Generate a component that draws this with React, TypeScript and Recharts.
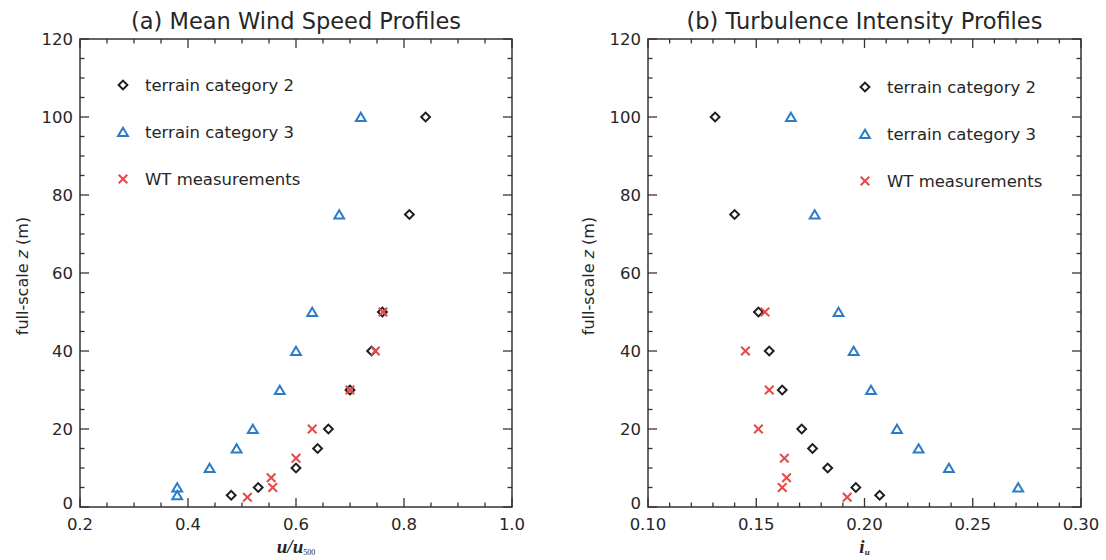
import React from "react";
import { ScatterChart, Scatter, XAxis, YAxis, ReferenceArea, Legend } from "recharts";

// ---------- data ----------
const heightsTC2 = [3, 5, 10, 15, 20, 30, 40, 50, 75, 100];
const heightsTC3a = [3, 5, 10, 15, 20, 30, 40, 50, 75, 100];
const heightsTC3b = [5, 10, 15, 20, 30, 40, 50, 75, 100];
const heightsWT = [2.5, 5, 7.5, 12.5, 20, 30, 40, 50];

const uTC2 = [0.48, 0.53, 0.6, 0.64, 0.66, 0.7, 0.74, 0.76, 0.81, 0.84];
const uTC3 = [0.38, 0.38, 0.44, 0.49, 0.52, 0.57, 0.6, 0.63, 0.68, 0.72];
const uWT = [0.51, 0.557, 0.554, 0.6, 0.63, 0.7, 0.747, 0.761];

const iTC2 = [0.207, 0.196, 0.183, 0.176, 0.171, 0.162, 0.156, 0.151, 0.14, 0.131];
const iTC3 = [0.271, 0.239, 0.225, 0.215, 0.203, 0.195, 0.188, 0.177, 0.166];
const iWT = [0.192, 0.162, 0.164, 0.163, 0.151, 0.156, 0.145, 0.154];

const seriesNames = ["terrain category 2", "terrain category 3", "WT measurements"];

const xMajorA = [0.2, 0.4, 0.6, 0.8, 1.0];
const xTicksA = [0.2, 0.25, 0.3, 0.35, 0.4, 0.45, 0.5, 0.55, 0.6, 0.65, 0.7, 0.75, 0.8, 0.85, 0.9, 0.95, 1.0];
const xMajorB = [0.1, 0.15, 0.2, 0.25, 0.3];
const xTicksB = [0.1, 0.11, 0.12, 0.13, 0.14, 0.15, 0.16, 0.17, 0.18, 0.19, 0.2, 0.21, 0.22, 0.23, 0.24, 0.25, 0.26, 0.27, 0.28, 0.29, 0.3];
const yMajor = [0, 20, 40, 60, 80, 100, 120];
const yTicks = [0, 5, 10, 15, 20, 25, 30, 35, 40, 45, 50, 55, 60, 65, 70, 75, 80, 85, 90, 95, 100, 105, 110, 115, 120];

const zip = (xs: number[], ys: number[]) => xs.map((x, i) => ({ x, y: ys[i] }));

// ---------- styles ----------
const AXIS = "#333333";
const TXT = "#262626";
const BLACK = "#1e1e1e";
const BLUE = "#2a7cc8";
const RED = "#e24a4c";
const SANS = "'DejaVu Sans', sans-serif";
const SERIF = "'Liberation Serif', 'DejaVu Serif', serif";

const W = 553;
const H = 560;
const PLOT_H = 468;

const Diamond = ({ cx, cy }: any) => (
  <path d={`M${cx},${cy - 4.4} L${cx + 4.4},${cy} L${cx},${cy + 4.4} L${cx - 4.4},${cy} Z`} fill="none" stroke={BLACK} strokeWidth={2} />
);
const Triangle = ({ cx, cy }: any) => (
  <path d={`M${cx},${cy - 4.3} L${cx + 4.9},${cy + 4} L${cx - 4.9},${cy + 4} Z`} fill="none" stroke={BLUE} strokeWidth={2} strokeLinejoin="miter" />
);
const Cross = ({ cx, cy }: any) => (
  <g stroke={RED} strokeWidth={2}>
    <line x1={cx - 4.3} y1={cy - 4.3} x2={cx + 4.3} y2={cy + 4.3} />
    <line x1={cx - 4.3} y1={cy + 4.3} x2={cx + 4.3} y2={cy - 4.3} />
  </g>
);
const markerByName: Record<string, any> = {
  [seriesNames[0]]: Diamond,
  [seriesNames[1]]: Triangle,
  [seriesNames[2]]: Cross,
};

const isIn = (v: number, arr: number[]) => arr.some((a) => Math.abs(a - v) < 1e-9);

const makeXTick = (majors: number[], dec: number) => (props: any) => {
  const { x, y, payload } = props;
  const v = payload.value;
  const major = isIn(v, majors);
  const len = major ? 9 : 4.5;
  return (
    <g>
      <line x1={x} y1={y} x2={x} y2={y - len} stroke={AXIS} strokeWidth={1.3} />
      <line x1={x} y1={y - PLOT_H} x2={x} y2={y - PLOT_H + len} stroke={AXIS} strokeWidth={1.3} />
      {major && (
        <text x={x} y={y + 23} textAnchor="middle" fill={TXT} fontFamily={SANS} fontSize={16.5}>
          {v.toFixed(dec)}
        </text>
      )}
    </g>
  );
};

const makeYTick = (plotW: number) => (props: any) => {
  const { x, y, payload } = props;
  const v = payload.value;
  const major = isIn(v, yMajor);
  const len = major ? 9 : 4.5;
  return (
    <g>
      <line x1={x} y1={y} x2={x + len} y2={y} stroke={AXIS} strokeWidth={1.3} />
      <line x1={x + plotW} y1={y} x2={x + plotW - len} y2={y} stroke={AXIS} strokeWidth={1.3} />
      {major && (
        <text x={x - 7} y={y + (v === 0 ? -4 : 0)} dy="0.36em" textAnchor="end" fill={TXT} fontFamily={SANS} fontSize={16.5}>
          {v}
        </text>
      )}
    </g>
  );
};

const YTitle = (off: number) => (props: any) => {
  const vb = props.viewBox || {};
  const cx = vb.x + (vb.width || 0) - off;
  const cy = vb.y + vb.height / 2 + 3;
  return (
    <text x={cx} y={cy} transform={`rotate(-90, ${cx}, ${cy})`} textAnchor="middle" dy="0.36em" fill={TXT} fontFamily={SANS} fontSize={16}>
      full-scale <tspan fontStyle="italic">z</tspan> (m)
    </text>
  );
};

const XTitleA = (props: any) => {
  const vb = props.viewBox || {};
  const cx = vb.x + vb.width / 2;
  return (
    <text x={cx} y={vb.y + 46} textAnchor="middle" fill={TXT} fontFamily={SERIF} fontWeight="bold" fontStyle="italic" fontSize={19}>
      u/u<tspan fontSize={8} fontWeight="normal" fontStyle="normal" dy={2}>500</tspan>
    </text>
  );
};
const XTitleB = (props: any) => {
  const vb = props.viewBox || {};
  const cx = vb.x + vb.width / 2;
  return (
    <text x={cx} y={vb.y + 46} textAnchor="middle" fill={TXT} fontFamily={SERIF} fontWeight="bold" fontStyle="italic" fontSize={19}>
      i<tspan fontSize={9} dy={2}>u</tspan>
    </text>
  );
};

const PlotTitle = (title: string) => (props: any) => {
  const vb = props.viewBox || {};
  return (
    <text x={vb.x + vb.width / 2} y={vb.y - 10} textAnchor="middle" fill={TXT} fontFamily={SANS} fontSize={22.5}>
      {title}
    </text>
  );
};

const legendContent = (props: any) => {
  const payload = [...(props.payload || [])].sort(
    (a: any, b: any) => seriesNames.indexOf(a.value) - seriesNames.indexOf(b.value)
  );
  return (
    <svg width={280} height={130} style={{ overflow: "visible" }}>
      {payload.map((e: any, i: number) => {
        const M = markerByName[e.value];
        const cy = 15 + i * 47;
        return (
          <g key={e.value}>
            {M && <M cx={10} cy={cy} />}
            <text x={32} y={cy} dy="0.36em" fill={TXT} fontFamily={SANS} fontSize={16.5}>
              {e.value}
            </text>
          </g>
        );
      })}
    </svg>
  );
};

interface PanelProps {
  margin: { top: number; right: number; bottom: number; left: number };
  xDomain: [number, number];
  xTicks: number[];
  xMajor: number[];
  dec: number;
  title: string;
  xTitle: any;
  yTitleOff: number;
  series: { name: string; data: { x: number; y: number }[]; shape: any }[];
  legendPos: { left: number; top: number };
}

const Panel = ({ margin, xDomain, xTicks, xMajor, dec, title, xTitle, yTitleOff, series, legendPos }: PanelProps) => {
  const plotW = W - margin.left - margin.right;
  // axes take 1px each; subtract from margins so plot rect stays put
  const m = { top: margin.top, right: margin.right, bottom: margin.bottom - 1, left: margin.left - 1 };
  return (
    <ScatterChart width={W} height={H} margin={m}>
      <XAxis
        type="number"
        dataKey="x"
        domain={xDomain}
        ticks={xTicks}
        interval={0}
        allowDataOverflow
        height={1}
        axisLine={false}
        tickLine={false}
        tickSize={0}
        tickMargin={0}
        tick={makeXTick(xMajor, dec)}
        label={xTitle}
      />
      <YAxis
        type="number"
        dataKey="y"
        domain={[0, 120]}
        ticks={yTicks}
        interval={0}
        allowDataOverflow
        width={1}
        axisLine={false}
        tickLine={false}
        tickSize={0}
        tickMargin={0}
        tick={makeYTick(plotW)}
        label={YTitle(yTitleOff)}
      />
      <ReferenceArea
        x1={xDomain[0]}
        x2={xDomain[1]}
        y1={0}
        y2={120}
        fill="none"
        fillOpacity={0}
        stroke={AXIS}
        strokeWidth={1.5}
        strokeOpacity={1}
        ifOverflow="visible"
        label={PlotTitle(title)}
      />
      <Legend
        layout="horizontal"
        verticalAlign="middle"
        align="center"
        content={legendContent}
        wrapperStyle={{ left: legendPos.left, top: legendPos.top, width: 280, height: 130 }}
      />
      {series.map((s) => (
        <Scatter key={s.name} name={s.name} data={s.data} shape={s.shape} isAnimationActive={false} />
      ))}
    </ScatterChart>
  );
};

export default function App() {
  const seriesA = [
    { name: seriesNames[0], data: zip(uTC2, heightsTC2), shape: (p: any) => <Diamond cx={p.cx} cy={p.cy} /> },
    { name: seriesNames[1], data: zip(uTC3, heightsTC3a), shape: (p: any) => <Triangle cx={p.cx} cy={p.cy} /> },
    { name: seriesNames[2], data: zip(uWT, heightsWT), shape: (p: any) => <Cross cx={p.cx} cy={p.cy} /> },
  ];
  const seriesB = [
    { name: seriesNames[0], data: zip(iTC2, heightsTC2), shape: (p: any) => <Diamond cx={p.cx} cy={p.cy} /> },
    { name: seriesNames[1], data: zip(iTC3, heightsTC3b), shape: (p: any) => <Triangle cx={p.cx} cy={p.cy} /> },
    { name: seriesNames[2], data: zip(iWT, heightsWT), shape: (p: any) => <Cross cx={p.cx} cy={p.cy} /> },
  ];
  return (
    <div style={{ position: "absolute", left: 0, top: 0, width: 1106, height: 560, background: "#fff" }}>
      <div style={{ position: "absolute", left: 0, top: 0 }}>
        <Panel
          margin={{ top: 39, right: 41, bottom: 53, left: 80 }}
          xDomain={[0.2, 1.0]}
          xTicks={xTicksA}
          xMajor={xMajorA}
          dec={1}
          title="(a) Mean Wind Speed Profiles"
          xTitle={XTitleA}
          yTitleOff={58}
          series={seriesA}
          legendPos={{ left: 113, top: 70 }}
        />
      </div>
      <div style={{ position: "absolute", left: 553, top: 0 }}>
        <Panel
          margin={{ top: 39, right: 25, bottom: 53, left: 95 }}
          xDomain={[0.1, 0.3]}
          xTicks={xTicksB}
          xMajor={xMajorB}
          dec={2}
          title="(b) Turbulence Intensity Profiles"
          xTitle={XTitleB}
          yTitleOff={60}
          series={seriesB}
          legendPos={{ left: 302, top: 72 }}
        />
      </div>
    </div>
  );
}
